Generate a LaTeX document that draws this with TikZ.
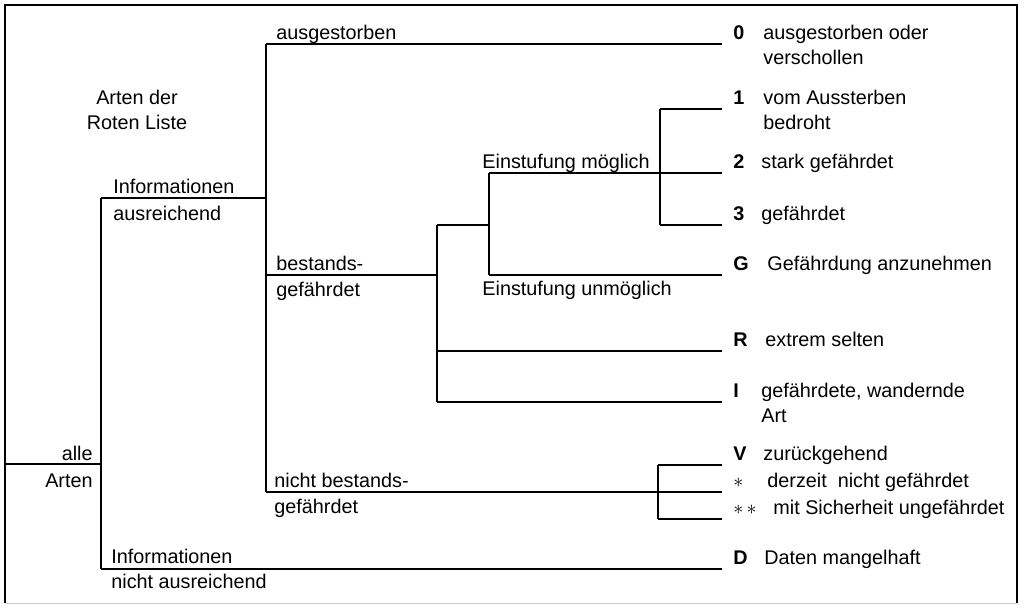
\documentclass[tikz,border=0pt]{standalone}
\usepackage{fontspec}
\setmainfont{Liberation Sans}
\usetikzlibrary{positioning,calc}

\begin{document}
\begin{tikzpicture}[x=0.5pt,y=-0.5pt,font=\fontsize{9.9}{12.5}\selectfont]
  \tikzstyle{ln}=[line width=0.9pt]
  \tikzstyle{lbl}=[anchor=base west,inner sep=0pt]
  \tikzstyle{code}=[anchor=base west,inner sep=0pt,xshift=5.5pt,yshift=2.5pt,font=\fontsize{9.9}{12.5}\selectfont\bfseries]
  \tikzstyle{desc}=[anchor=base west,inner sep=0pt,align=left]
  \useasboundingbox (0,0) rectangle (1025,607);
  % frame
  \draw[ln] (5,603) -- (5,5) -- (1017,5) -- (1017,603);
  \draw[gray!40,line width=0.5pt] (5,603) -- (1017,603);
  \node[align=center,inner sep=0pt,anchor=base] (title) at (137,129) {Arten der\\Roten Liste};
  % branch points
  \coordinate (root) at (5,464);
  \coordinate (alle) at (101,464);
  \coordinate (ia) at (101,198);
  \coordinate (ina) at (101,569);
  \coordinate (iaE) at (266,198);
  \coordinate (aus) at (266,44);
  \coordinate (bg) at (266,275);
  \coordinate (nbg) at (266,492);
  \coordinate (bgE) at (437,275);
  \coordinate (ein) at (437,225);
  \coordinate (einE) at (489,225);
  \coordinate (em) at (489,173);
  \coordinate (eu) at (489,275);
  \coordinate (sel) at (437,351);
  \coordinate (wan) at (437,402);
  \coordinate (gtop) at (660,109);
  \coordinate (gbot) at (660,225);
  \coordinate (vtop) at (658,465);
  \coordinate (vbot) at (658,519);
  % leaf ends
  \coordinate (e0) at (722,44);
  \coordinate (e1) at (722,109);
  \coordinate (e2) at (722,173);
  \coordinate (e3) at (722,225);
  \coordinate (eG) at (722,275);
  \coordinate (eR) at (722,351);
  \coordinate (eI) at (722,402);
  \coordinate (eV) at (722,465);
  \coordinate (eS) at (722,492);
  \coordinate (eSS) at (722,519);
  \coordinate (eD) at (722,569);
  % lines
  \draw[ln] (root) -- (alle);
  \draw[ln] (ia) -- (ina);
  \draw[ln] (ia) -- (iaE);
  \draw[ln] (ina) -- (eD);
  \draw[ln] (aus) -- (nbg);
  \draw[ln] (aus) -- (e0);
  \draw[ln] (bg) -- (bgE);
  \draw[ln] (nbg) -- (eS);
  \draw[ln] (ein) -- (wan);
  \draw[ln] (ein) -- (einE);
  \draw[ln] (em) -- (eu);
  \draw[ln] (em) -- (e2);
  \draw[ln] (eu) -- (eG);
  \draw[ln] (sel) -- (eR);
  \draw[ln] (wan) -- (eI);
  \draw[ln] (gtop) -- (gbot);
  \draw[ln] (gtop) -- (e1);
  \draw[ln] (gbot) -- (e3);
  \draw[ln] (vtop) -- (vbot);
  \draw[ln] (vtop) -- (eV);
  \draw[ln] (vbot) -- (eSS);
  % branch labels
  \node[anchor=base east,inner sep=0pt,xshift=-4pt,yshift=2pt] (tAlle) at (alle) {alle};
  \node[anchor=base east,inner sep=0pt,xshift=-4pt,yshift=-11.5pt] (tArten) at (alle) {Arten};
  \node[lbl,xshift=6pt,yshift=2.2pt] (tIA) at (ia) {Informationen};
  \node[lbl,xshift=6pt,yshift=-11pt] (tIA2) at (ia) {ausreichend};
  \node[lbl,xshift=5pt,yshift=3pt] (tINA) at (ina) {Informationen};
  \node[lbl,xshift=5pt,yshift=-9.5pt] (tINA2) at (ina) {nicht ausreichend};
  \node[lbl,xshift=5pt,yshift=2.25pt] (tAus) at (aus) {ausgestorben};
  \node[lbl,xshift=5pt,yshift=2.5pt] (tBG) at (bg) {bestands-};
  \node[lbl,xshift=5pt,yshift=-10.5pt] (tBG2) at (bg) {gefährdet};
  \node[lbl,xshift=4pt,yshift=2.5pt] (tNBG) at (nbg) {nicht bestands-};
  \node[lbl,xshift=4pt,yshift=-10.5pt] (tNBG2) at (nbg) {gefährdet};
  \node[lbl,xshift=-3.5pt,yshift=2.5pt] (tEM) at (em) {Einstufung möglich};
  \node[lbl,xshift=-3.5pt,yshift=-10pt] (tEU) at (eu) {Einstufung unmöglich};
  % leaf labels
  \node[code] (c0) at (e0) {0};
  \node[desc,xshift=20.5pt,yshift=-10pt] (d0) at (e0) {ausgestorben oder\\verschollen};
  \node[code] (c1) at (e1) {1};
  \node[desc,xshift=20.5pt,yshift=-10pt] (d1) at (e1) {vom Aussterben\\bedroht};
  \node[code] (c2) at (e2) {2};
  \node[desc,xshift=19.5pt,yshift=2.5pt] (d2) at (e2) {stark gefährdet};
  \node[code] (c3) at (e3) {3};
  \node[desc,xshift=19.5pt,yshift=2.5pt] (d3) at (e3) {gefährdet};
  \node[code] (cG) at (eG) {G};
  \node[desc,xshift=22.5pt,yshift=2.5pt] (dG) at (eG) {Gefährdung anzunehmen};
  \node[code] (cR) at (eR) {R};
  \node[desc,xshift=21.5pt,yshift=2.5pt] (dR) at (eR) {extrem selten};
  \node[code] (cI) at (eI) {I};
  \node[desc,xshift=19.5pt,yshift=-10pt] (dI) at (eI) {gefährdete, wandernde\\Art};
  \node[code] (cV) at (eV) {V};
  \node[desc,xshift=20.5pt,yshift=2.5pt] (dV) at (eV) {zurückgehend};
  \node[code] (cS) at (eS) {$\ast$};
  \node[desc,xshift=22.5pt,yshift=2.5pt] (dS) at (eS) {derzeit\ \ nicht gefährdet};
  \node[code] (cSS) at (eSS) {$\ast\,\ast$};
  \node[desc,xshift=25.5pt,yshift=2.5pt] (dSS) at (eSS) {mit Sicherheit ungefährdet};
  \node[code] (cD) at (eD) {D};
  \node[desc,xshift=21pt,yshift=2.5pt] (dD) at (eD) {Daten mangelhaft};
\end{tikzpicture}
\end{document}
